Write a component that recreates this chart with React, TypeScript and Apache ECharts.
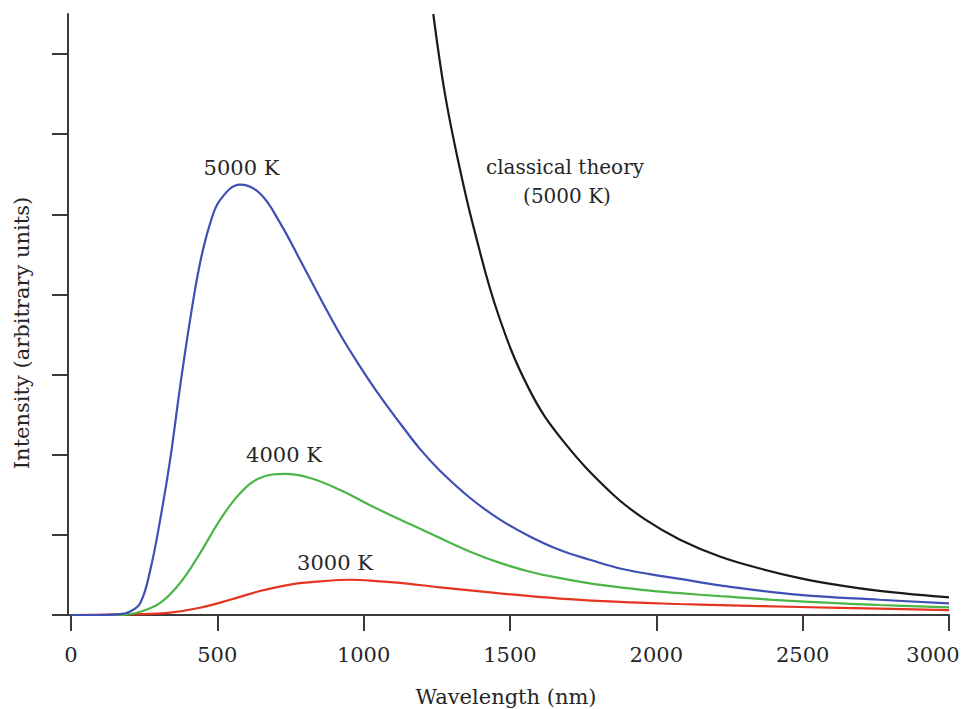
import React, { useEffect, useRef } from "react";
import * as echarts from "echarts";

// Wavelength (nm) and intensity (arbitrary units)
const wl5000 = [0, 100, 168, 200, 237, 271, 305, 339, 373, 407, 441, 476, 510, 578, 646, 715, 783, 851, 920, 988, 1056, 1125, 1193, 1261, 1364, 1466, 1568, 1671, 1773, 1876, 1978, 2081, 2217, 2490, 2763, 3000];
const int5000 = [0, 0, 0.01, 0.04, 0.15, 0.56, 1.19, 1.94, 2.85, 3.68, 4.39, 4.89, 5.18, 5.37, 5.26, 4.89, 4.43, 3.96, 3.5, 3.1, 2.73, 2.39, 2.07, 1.8, 1.46, 1.19, 0.98, 0.81, 0.69, 0.58, 0.51, 0.45, 0.37, 0.25, 0.19, 0.146];

const wl4000 = [0, 168, 237, 305, 373, 441, 510, 578, 646, 732, 817, 920, 1022, 1113, 1158, 1261, 1364, 1466, 1568, 1671, 1773, 1876, 1978, 2081, 2217, 2490, 2763, 3000];
const int4000 = [0, 0, 0.04, 0.15, 0.4, 0.77, 1.19, 1.52, 1.71, 1.76, 1.71, 1.56, 1.37, 1.21, 1.135, 0.96, 0.79, 0.65, 0.54, 0.46, 0.395, 0.345, 0.305, 0.272, 0.235, 0.17, 0.125, 0.096];

const wl3000 = [0, 237, 339, 441, 544, 646, 749, 851, 954, 1056, 1125, 1261, 1466, 1671, 1876, 2081, 2217, 2490, 2763, 3000];
const int3000 = [0, 0.01, 0.03, 0.09, 0.19, 0.3, 0.38, 0.42, 0.44, 0.42, 0.4, 0.345, 0.27, 0.205, 0.163, 0.137, 0.123, 0.1, 0.08, 0.062];

const wlClassical = [1238, 1278, 1324, 1375, 1460, 1568, 1682, 1853, 1967, 2081, 2217, 2354, 2490, 2627, 2763, 2900, 3000];
const intClassical = [7.5, 6.5, 5.65, 4.85, 3.75, 2.8, 2.17, 1.5, 1.18, 0.94, 0.73, 0.58, 0.46, 0.37, 0.3, 0.25, 0.22];

const xTicks = [0, 500, 1000, 1500, 2000, 2500, 3000];
const yTicks = [0, 1, 2, 3, 4, 5, 6, 7];

const FONT = "DejaVu Serif";
const TEXT = "#262626";
const AXIS = "#3a3a3a";

const zip = (xs: number[], ys: number[]) => xs.map((x, i) => [x, ys[i]]);

export default function App() {
  const ref = useRef<HTMLDivElement>(null);
  useEffect(() => {
    if (!ref.current) return;
    const chart = echarts.init(ref.current, null, { renderer: "svg" });
    const line = (name: string, data: number[][], color: string) => ({
      name,
      type: "line",
      data,
      showSymbol: false,
      smooth: 0.4,
      lineStyle: { color, width: 2.2 },
      itemStyle: { color },
      z: 3,
    });
    const label = (text: string, x: number, y: number, size = 20) => ({
      type: "text",
      x,
      y,
      style: {
        text,
        fill: TEXT,
        font: `${size}px "${FONT}"`,
        align: "center",
        verticalAlign: "middle",
      },
    });
    chart.setOption({
      animation: false,
      backgroundColor: "#ffffff",
      grid: { left: 68, right: 15, top: 14, bottom: 94, outerBoundsMode: "none", containLabel: false },
      xAxis: {
        type: "value",
        min: -10,
        max: 3000,
        axisLine: { onZero: false, lineStyle: { color: AXIS, width: 2 } },
        axisTick: { show: true, length: 16, customValues: xTicks, lineStyle: { color: AXIS, width: 2 } },
        axisLabel: {
          customValues: xTicks,
          formatter: (v: number) => (v === 3000 ? `{last|${v}}` : String(v)),
          margin: 29,
          color: TEXT,
          fontFamily: FONT,
          fontSize: 21,
          hideOverlap: false,
          rich: {
            last: {
              color: TEXT,
              fontFamily: FONT,
              fontSize: 21,
              padding: [0, 32, 0, 0],
            },
          },
        },
        splitLine: { show: false },
      },
      yAxis: {
        type: "value",
        min: 0,
        max: 7.5,
        axisLine: { show: true, onZero: false, lineStyle: { color: AXIS, width: 2 } },
        axisTick: { show: true, length: 16, customValues: yTicks, lineStyle: { color: AXIS, width: 2 } },
        axisLabel: { show: false },
        splitLine: { show: false },
      },
      series: [
        line("3000 K", zip(wl3000, int3000), "#e5341f"),
        line("4000 K", zip(wl4000, int4000), "#4cb548"),
        line("5000 K", zip(wl5000, int5000), "#3f4fb3"),
        line("classical theory (5000 K)", zip(wlClassical, intClassical), "#1a1a1a"),
      ],
      graphic: [
        label("5000 K", 241.5, 168, 21),
        label("4000 K", 284, 455, 21),
        label("3000 K", 335, 563, 21),
        label("classical theory", 565, 167, 20),
        label("(5000 K)", 567, 196, 20),
        label("Wavelength (nm)", 506, 697, 21),
        {
          type: "text",
          x: 22,
          y: 333,
          rotation: Math.PI / 2,
          style: {
            text: "Intensity (arbitrary units)",
            fill: TEXT,
            font: `21px "${FONT}"`,
            align: "center",
            verticalAlign: "middle",
          },
        },
      ],
    });
    return () => chart.dispose();
  }, []);
  return (
    <div
      ref={ref}
      style={{ position: "fixed", left: 0, top: 0, width: 964, height: 709 }}
    />
  );
}
